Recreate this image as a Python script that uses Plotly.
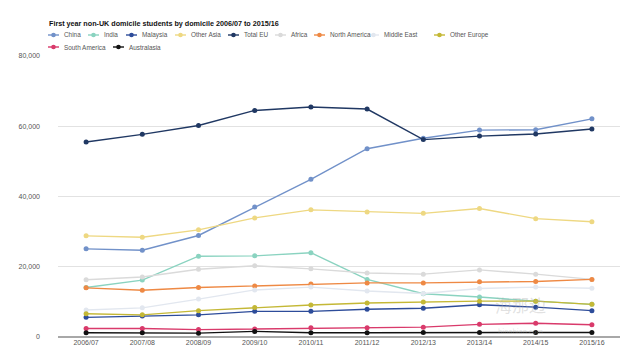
import plotly.graph_objects as go

categories = ["2006/07", "2007/08", "2008/09", "2009/10", "2010/11",
              "2011/12", "2012/13", "2013/14", "2014/15", "2015/16"]

china = [25100, 24700, 28900, 37000, 44900, 53600, 56600, 58900, 59000, 62100]
india = [14100, 16200, 23000, 23100, 24000, 16400, 12300, 11400, 10200, 9300]
malaysia = [5600, 6000, 6300, 7300, 7300, 7900, 8200, 9200, 8500, 7500]
other_asia = [28800, 28400, 30500, 33900, 36200, 35600, 35200, 36600, 33700, 32800]
total_eu = [55500, 57700, 60200, 64500, 65500, 64900, 56200, 57200, 57800, 59200]
africa = [16300, 17100, 19300, 20300, 19400, 18200, 17900, 19100, 17900, 16400]
north_america = [14000, 13300, 14100, 14500, 15100, 15400, 15400, 15700, 15800, 16400]
middle_east = [7700, 8300, 10800, 13400, 14200, 13100, 12400, 13800, 14200, 13900]
other_europe = [6600, 6300, 7500, 8400, 9100, 9700, 10000, 10200, 10200, 9300]
south_america = [2400, 2400, 2100, 2300, 2600, 2600, 2800, 3600, 3900, 3500]
australasia = [1200, 1200, 1100, 1600, 1200, 1200, 1300, 1300, 1300, 1300]

y_ticks = [0, 20000, 40000, 60000, 80000]
y_tick_labels = ["0", "20,000", "40,000", "60,000", "80,000"]

series = [
    ("China", china, "#7191c9"),
    ("India", india, "#8ad3c0"),
    ("Malaysia", malaysia, "#2d4c9a"),
    ("Other Asia", other_asia, "#eed882"),
    ("Total EU", total_eu, "#203863"),
    ("Africa", africa, "#dadada"),
    ("North America", north_america, "#ee8944"),
    ("Middle East", middle_east, "#e2e7ef"),
    ("Other Europe", other_europe, "#c4b836"),
    ("South America", south_america, "#d93a6b"),
    ("Australasia", australasia, "#111111"),
]

# The page body has an 8px default margin, so the figure starts at (8, 8).
OFF = 8
W, H = 640 - OFF, 359 - OFF
L, R, T, B = 58 - OFF, 20, 56 - OFF, 22
PX0, PX1, PY0, PY1 = 58, 620, 56, 337  # plot area in page pixels


def px(x):
    return (x - PX0) / (PX1 - PX0)


def py(y):
    return (PY1 - y) / (PY1 - PY0)


FONT = "Liberation Sans, Arial, sans-serif"

fig = go.Figure()
for name, vals, color in series:
    fig.add_trace(go.Scatter(
        x=categories, y=vals, name=name, mode="lines+markers",
        line=dict(color=color, width=1.4),
        marker=dict(color=color, size=5),
        showlegend=False,
    ))

# manual legend (layout positions in page pixels)
legend_pos = [(48, 35), (88, 35), (126, 35), (175, 35), (228, 35),
              (275, 35), (314, 35), (368, 35), (434, 35), (48, 47), (113, 47)]
shapes = []
annotations = []
for (name, vals, color), (lx, ly) in zip(series, legend_pos):
    shapes.append(dict(type="line", xref="paper", yref="paper",
                       x0=px(lx), x1=px(lx + 11), y0=py(ly), y1=py(ly),
                       line=dict(color=color, width=1.4)))
    shapes.append(dict(type="circle", xref="paper", yref="paper",
                       xsizemode="pixel", ysizemode="pixel",
                       xanchor=px(lx + 5.5), yanchor=py(ly),
                       x0=-2.3, x1=2.3, y0=-2.3, y1=2.3,
                       fillcolor=color, line=dict(width=0)))
    annotations.append(dict(text=name, xref="paper", yref="paper",
                            x=px(lx + 13.5), y=py(ly), xanchor="left", yanchor="middle",
                            showarrow=False,
                            font=dict(family=FONT, size=6.4, color="#555555")))

annotations.append(dict(text="<b>First year non-UK domicile students by domicile 2006/07 to 2015/16</b>",
                        xref="paper", yref="paper", x=px(47), y=py(24),
                        xanchor="left", yanchor="middle", showarrow=False,
                        font=dict(family=FONT, size=7.2, color="#111111")))

# watermark (single text block)
annotations.append(dict(text="海那边<br><span style='font-size:7px'>hinabian.com</span>",
                        xref="paper", yref="paper", x=px(520), y=py(314),
                        xanchor="center", yanchor="middle", showarrow=False,
                        font=dict(family="Noto Sans CJK SC", size=17, color="rgba(170,170,170,0.35)")))

fig.update_layout(
    width=W, height=H,
    margin=dict(l=L, r=R, t=T, b=B, autoexpand=False),
    paper_bgcolor="white", plot_bgcolor="white",
    shapes=shapes, annotations=annotations,
    showlegend=False,
    font=dict(family=FONT, size=7, color="#555555"),
)
fig.update_xaxes(type="category", range=[-0.5, 9.5], showgrid=False,
                 showline=False, zeroline=False, ticks="", automargin=False,
                 tickfont=dict(family=FONT, size=7, color="#555555"))
fig.update_yaxes(range=[0, 80000], tickvals=y_ticks, ticktext=y_tick_labels,
                 showgrid=True, gridcolor="#e2e2e2", gridwidth=1,
                 zeroline=True, zerolinecolor="#a8a8a8", zerolinewidth=1.5,
                 showline=False, ticks="", ticklabelstandoff=17, automargin=False,
                 tickfont=dict(family=FONT, size=7, color="#555555"))

fig.write_html("out.html")
